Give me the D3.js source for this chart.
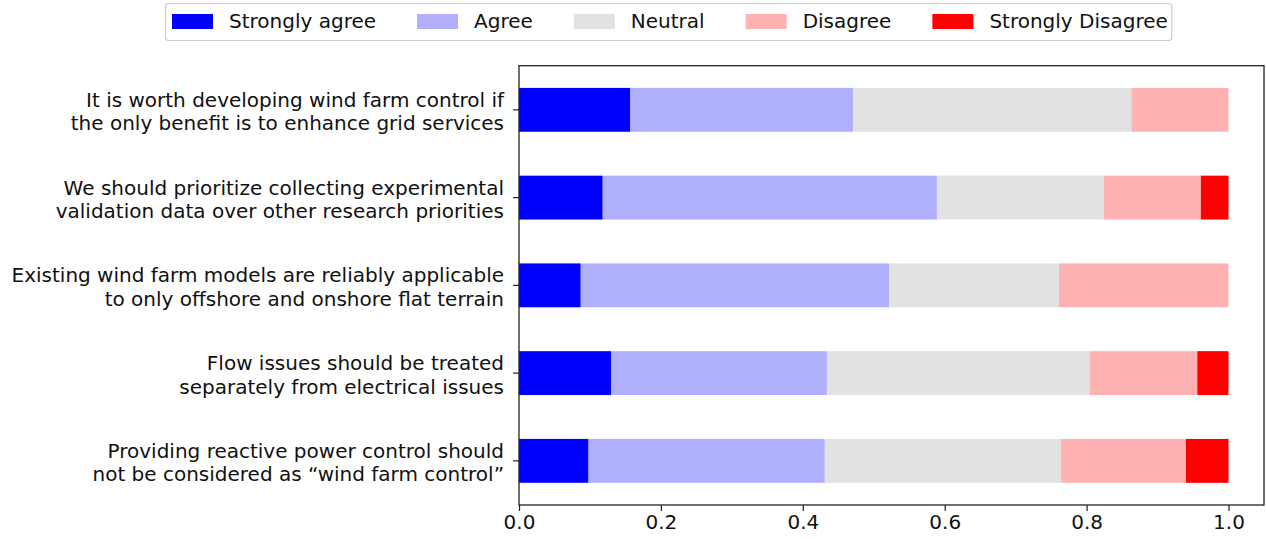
<!DOCTYPE html>
<html>
<head>
<meta charset="utf-8">
<script src="https://cdn.jsdelivr.net/npm/d3@7"></script>
<style>
  body { margin: 0; background: #fff; }
  svg { font-family: "DejaVu Sans", sans-serif; }
</style>
</head>
<body>
<div id="chart"></div>
<script>
// survey statements (top to bottom), each split over two lines
const statements = [
    ["It is worth developing wind farm control if", "the only benefit is to enhance grid services"],
    ["We should prioritize collecting experimental", "validation data over other research priorities"],
    ["Existing wind farm models are reliably applicable", "to only offshore and onshore flat terrain"],
    ["Flow issues should be treated", "separately from electrical issues"],
    ["Providing reactive power control should", "not be considered as \u201cwind farm control\u201d"]
];

const responses = ["Strongly agree", "Agree", "Neutral", "Disagree", "Strongly Disagree"];
const colours = ["#0000ff", "#b0b0fc", "#e2e2e2", "#ffb2b2", "#ff0000"];

// share of answers per statement
const stronglyAgree    = [0.157, 0.118, 0.087, 0.130, 0.098];
const agree            = [0.314, 0.471, 0.435, 0.304, 0.333];
const neutral          = [0.392, 0.235, 0.239, 0.370, 0.333];
const disagree         = [0.137, 0.137, 0.239, 0.152, 0.176];
const stronglyDisagree = [0.000, 0.039, 0.000, 0.044, 0.060];

const xTicks = [0, 0.2, 0.4, 0.6, 0.8, 1.0];

const width = 1266, height = 539;
const margin = { top: 65.7, right: 2, bottom: 34, left: 519 };
const fontSize = 20;

const svg = d3.select("#chart")
      .append("svg")
      .attr("width", width)
      .attr("height", height);

const x = d3.scaleLinear()
      .domain([0, 1.05])
      .range([margin.left, width - margin.right]);

const y = d3.scaleLinear()
      .domain([-0.503, 4.503])
      .range([margin.top, height - margin.bottom]);

const rows = statements.map(function (s, i) {
    return {
        i: i,
        values: [stronglyAgree[i], agree[i], neutral[i], disagree[i], stronglyDisagree[i]]
    };
});

const stack = d3.stack()
      .keys(d3.range(5))
      .value(function (d, k) { return d.values[k]; });

const series = stack(rows);
const barH = y(0.25) - y(-0.25);

svg.selectAll("g.series")
    .data(series)
    .enter()
    .append("g")
    .attr("class", "series")
    .attr("fill", function (d) { return colours[d.key]; })
    .selectAll("rect")
    .data(function (d) { return d; })
    .enter()
    .append("rect")
    .attr("x", function (d) { return x(d[0]); })
    .attr("width", function (d) { return Math.max(0, x(d[1]) - x(d[0])); })
    .attr("y", function (d) { return y(d.data.i) - barH / 2; })
    .attr("height", barH);

// frame
svg.append("rect")
    .attr("x", margin.left)
    .attr("y", margin.top)
    .attr("width", width - margin.right - margin.left)
    .attr("height", height - margin.bottom - margin.top)
    .attr("fill", "none")
    .attr("stroke", "#222")
    .attr("stroke-width", 1.3);

// x axis
const xAxis = svg.append("g")
      .attr("transform", "translate(0," + (height - margin.bottom) + ")")
      .call(d3.axisBottom(x).tickValues(xTicks).tickFormat(d3.format(".1f")).tickSize(6).tickPadding(4));
xAxis.select(".domain").remove();
xAxis.selectAll("line").attr("stroke", "#222").attr("stroke-width", 1.2);
xAxis.selectAll("text").attr("font-size", fontSize).attr("fill", "#111")
    .attr("font-family", "DejaVu Sans, sans-serif");

// y ticks and labels
const yAxis = svg.append("g");
yAxis.selectAll("line")
    .data(statements)
    .enter()
    .append("line")
    .attr("x1", margin.left - 6)
    .attr("x2", margin.left)
    .attr("y1", function (d, i) { return y(i); })
    .attr("y2", function (d, i) { return y(i); })
    .attr("stroke", "#222")
    .attr("stroke-width", 1.2);

yAxis.selectAll("text")
    .data(statements)
    .enter()
    .append("text")
    .attr("text-anchor", "end")
    .attr("font-size", fontSize)
    .attr("fill", "#111")
    .attr("x", margin.left - 15)
    .attr("y", function (d, i) { return y(i); })
    .selectAll("tspan")
    .data(function (d) { return d; })
    .enter()
    .append("tspan")
    .attr("x", margin.left - 15)
    .attr("dy", function (d, j) { return j === 0 ? -3 : 23.5; })
    .text(function (d) { return d; });

// legend
const legend = svg.append("g");
const legendBox = legend.append("rect")
      .attr("x", 165.5)
      .attr("y", 3.5)
      .attr("height", 37)
      .attr("rx", 3)
      .attr("fill", "#fff")
      .attr("stroke", "#ccc")
      .attr("stroke-width", 1.2);

let lx = 172;
responses.forEach(function (r, i) {
    legend.append("rect")
        .attr("x", lx)
        .attr("y", 14)
        .attr("width", 41)
        .attr("height", 15)
        .attr("fill", colours[i]);
    const t = legend.append("text")
        .attr("x", lx + 57)
        .attr("y", 28)
        .attr("font-size", fontSize)
        .attr("fill", "#111")
        .text(r);
    lx = lx + 57 + t.node().getComputedTextLength() + 41;
});
legendBox.attr("width", lx - 41 + 4 - 165.5);
</script>
</body>
</html>
